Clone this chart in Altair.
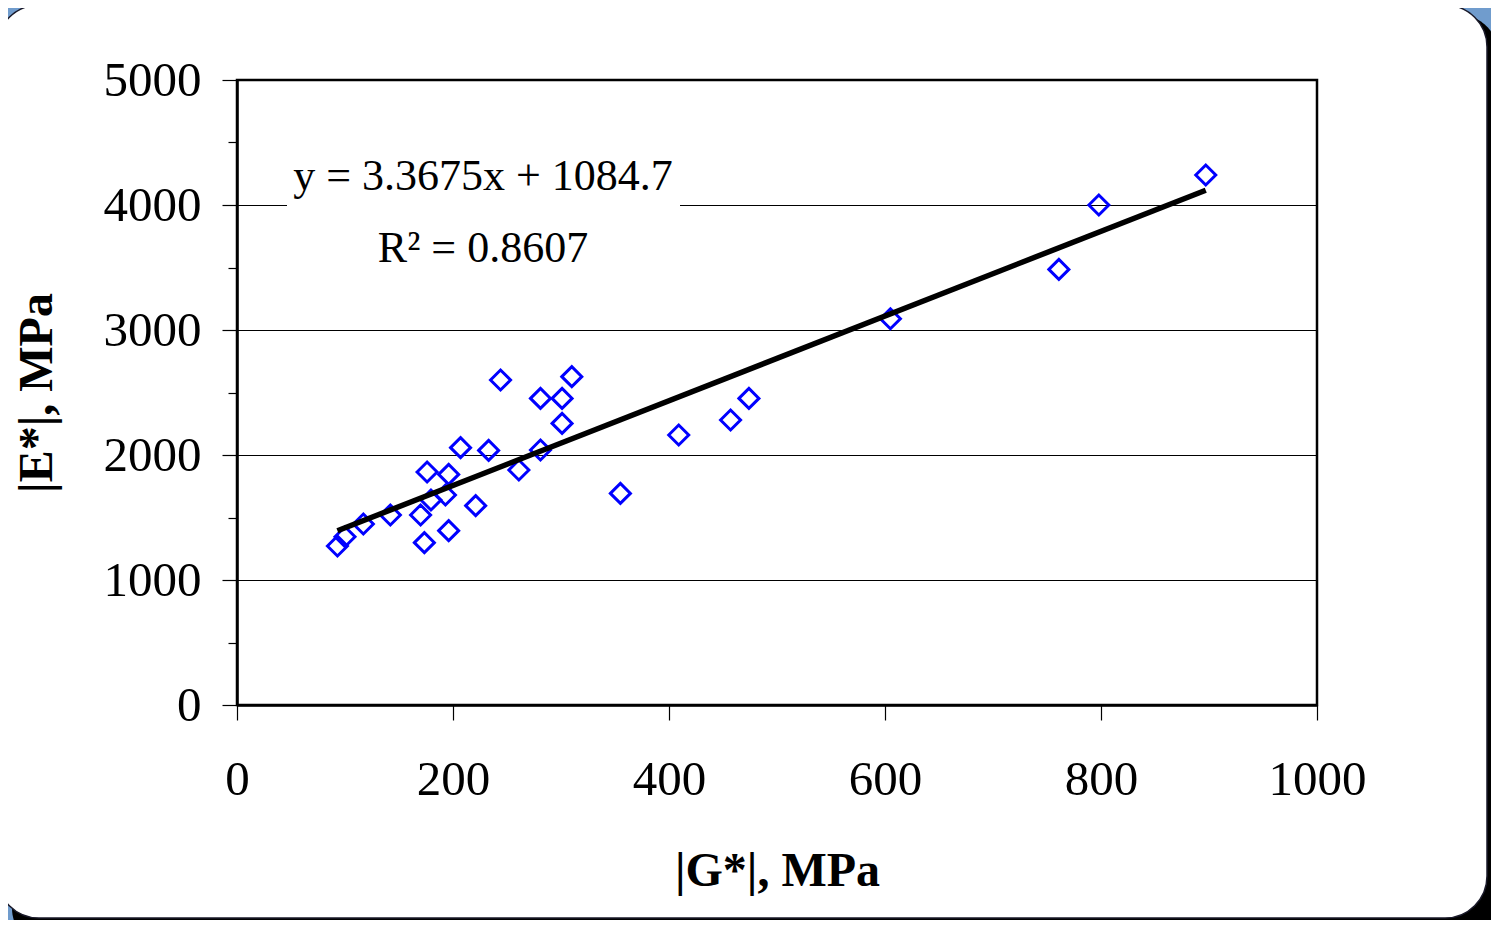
import altair as alt
import pandas as pd

# ---- data ----
g_star = [93, 100, 117, 142, 170, 173.5, 179.6, 176, 193, 196, 196, 207, 221, 233,
          244, 261, 281, 281, 301, 301, 310, 355, 409, 457, 474, 605, 761, 798, 897]
e_star = [1272, 1346, 1448, 1520, 1520, 1299, 1640, 1864, 1680, 1845, 1395, 2059, 1595, 2037,
          2600, 1880, 2453, 2040, 2453, 2253, 2627, 1693, 2160, 2280, 2453, 3090, 3485, 4000, 4240]

x_ticks = [0, 200, 400, 600, 800, 1000]
y_ticks = [0, 500, 1000, 1500, 2000, 2500, 3000, 3500, 4000, 4500, 5000]
grid_values = [1000, 2000, 3000, 4000]
eq_lines = ["y = 3.3675x + 1084.7", "R\u00b2 = 0.8607"]
x_title = "|G*|, MPa"
y_title = "|E*|, MPa"

FONT = "Liberation Serif"
BLUE_BG = "#709CCD"

df = pd.DataFrame({"G": g_star, "E": e_star})
df_grid = pd.DataFrame({"E": grid_values})
one = pd.DataFrame({"k": [0]})

xscale = alt.Scale(domain=[0, 1000], nice=False, zero=False)
yscale = alt.Scale(domain=[0, 5000], nice=False, zero=False)

xaxis = alt.Axis(
    values=x_ticks, format="d", title=x_title, grid=False,
    domainColor="black", domainWidth=2.5,
    tickColor="black", tickWidth=1.2, tickSize=15,
    labelFont=FONT, labelFontSize=49, labelColor="black", labelPadding=35,
    labelFlush=False, labelOverlap=False,
    titleFont=FONT, titleFontSize=48, titleFontWeight="bold", titleColor="black",
    titleY=180, titleBaseline="alphabetic", zindex=1,
)
yaxis = alt.Axis(
    values=y_ticks, format="d", title=y_title, grid=False,
    labelExpr="datum.value % 1000 === 0 ? datum.label : ''",
    domainColor="black", domainWidth=2.5,
    tickColor="black", tickWidth=1.2,
    tickSize={"condition": {"test": "datum.value % 1000 === 0", "value": 15}, "value": 9},
    labelFont=FONT, labelFontSize=49, labelColor="black", labelPadding=21,
    labelFlush=False, labelOverlap=False,
    titleFont=FONT, titleFontSize=48, titleFontWeight="bold", titleColor="black",
    titleX=-186, titleY=312.5, titleAngle=270, titleBaseline="alphabetic", zindex=1,
)

# decorative page frame (shadow + white rounded panel)
shadow = alt.Chart(one).mark_rect(color="black", cornerRadius=42).encode(
    x=alt.value(-225), x2=alt.value(1262), y=alt.value(-66), y2=alt.value(870)
)
panel = alt.Chart(one).mark_rect(fill="white", stroke="#1a1a2a", strokeWidth=1.5,
                                 cornerRadius=42).encode(
    x=alt.value(-240), x2=alt.value(1250), y=alt.value(-75), y2=alt.value(838)
)

grid = alt.Chart(df_grid).mark_rule(color="black", strokeWidth=1, yOffset=0.5).encode(
    y=alt.Y("E:Q", scale=yscale, axis=yaxis)
)

points = alt.Chart(df).mark_point(
    shape="diamond", filled=False, color="#0000FF", strokeWidth=3, size=400, opacity=1
).encode(
    x=alt.X("G:Q", scale=xscale, axis=xaxis),
    y=alt.Y("E:Q", scale=yscale, axis=yaxis),
)

trend = alt.Chart(df).transform_regression("G", "E").mark_line(
    color="black", strokeWidth=5.5
).encode(
    x=alt.X("G:Q", scale=xscale, axis=xaxis),
    y=alt.Y("E:Q", scale=yscale, axis=yaxis),
)

frame = alt.Chart(one).mark_rect(fillOpacity=0, stroke="black", strokeWidth=2.5).encode(
    x=alt.value(0), x2=alt.value(1080), y=alt.value(0), y2=alt.value(625)
)

label_box = alt.Chart(one).mark_rect(fill="white").encode(
    x=alt.value(50), x2=alt.value(443), y=alt.value(72), y2=alt.value(192)
)

eq1 = alt.Chart(one).mark_text(
    text=eq_lines[0], font=FONT, fontSize=44, color="black", align="center",
    baseline="alphabetic"
).encode(x=alt.value(246), y=alt.value(110))
eq2 = alt.Chart(one).mark_text(
    text=eq_lines[1], font=FONT, fontSize=44, color="black", align="center",
    baseline="alphabetic"
).encode(x=alt.value(246), y=alt.value(182))

chart = alt.layer(
    shadow, panel, grid, frame, points, trend, label_box, eq1, eq2
).properties(
    width=1080, height=625,
    padding={"left": 229, "top": 72, "right": 174, "bottom": 215},
    autosize=alt.AutoSizeParams(type="none"),
    background=BLUE_BG,
).configure_view(stroke=None)

chart.save("out.html", embed_options={"renderer": "svg", "actions": False})
